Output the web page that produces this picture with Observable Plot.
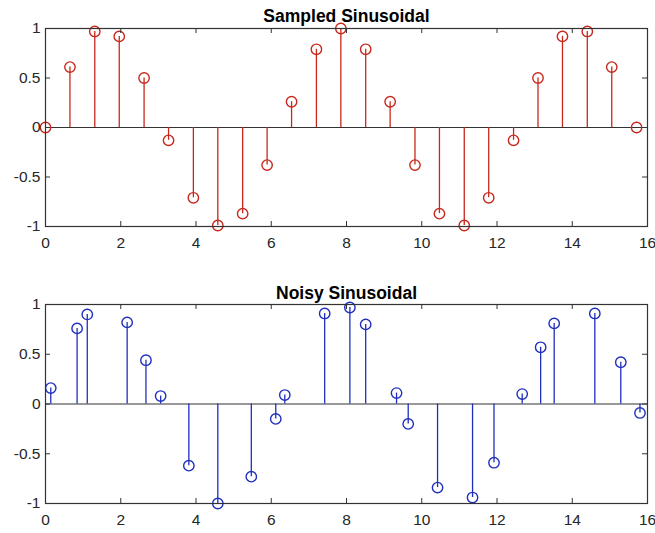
<!DOCTYPE html>
<html>
<head>
<meta charset="utf-8">
<script src="https://cdn.jsdelivr.net/npm/d3@7"></script>
<script src="https://cdn.jsdelivr.net/npm/@observablehq/plot@0.6"></script>
<style>
  body { margin: 0; background: #fff; }
  #chart { width: 655px; }
  #chart svg { display: block; }
</style>
</head>
<body>
<div id="chart"></div>
<script>
// Top: sampled sinusoid
const sampledX = [0, 0.65, 1.31, 1.96, 2.62, 3.27, 3.93, 4.58, 5.24, 5.89, 6.54, 7.20, 7.85, 8.51, 9.16, 9.82, 10.47, 11.13, 11.78, 12.44, 13.09, 13.74, 14.40, 15.05, 15.71];
const sampledY = [0, 0.61, 0.97, 0.92, 0.50, -0.13, -0.71, -0.99, -0.87, -0.38, 0.26, 0.79, 1.00, 0.79, 0.26, -0.38, -0.87, -0.99, -0.71, -0.13, 0.50, 0.92, 0.97, 0.61, 0];

// Bottom: noisy sinusoid
const noisyX = [0.14, 0.84, 1.11, 2.17, 2.67, 3.06, 3.81, 4.58, 5.47, 6.12, 6.36, 7.42, 8.09, 8.51, 9.33, 9.64, 10.42, 11.35, 11.92, 12.67, 13.16, 13.52, 14.60, 15.29, 15.80];
const noisyY = [0.16, 0.76, 0.90, 0.82, 0.44, 0.08, -0.62, -1.00, -0.73, -0.15, 0.09, 0.91, 0.97, 0.80, 0.11, -0.20, -0.84, -0.94, -0.59, 0.10, 0.57, 0.81, 0.91, 0.42, -0.09];

const xTicks = [0, 2, 4, 6, 8, 10, 12, 14, 16];
const yTicks = [-1, -0.5, 0, 0.5, 1];
const titles = ["Sampled Sinusoidal", "Noisy Sinusoidal"];

const axisColor = "#262626";
const fontFamily = "'Liberation Sans', Arial, Helvetica, sans-serif";

function stemPlot({xs, ys, color, title, height, marginTop, marginBottom, titleDy}) {
  const data = xs.map((x, i) => ({x, y: ys[i]}));
  const marginLeft = 45, marginRight = 8, width = 655;
  const fh = height - marginTop - marginBottom;
  const fw = width - marginLeft - marginRight;
  const tick = 5;
  return Plot.plot({
    width, height, marginTop, marginBottom, marginLeft, marginRight,
    style: {fontFamily, fontSize: "15px", color: axisColor, background: "#fff"},
    x: {domain: [0, 16]},
    y: {domain: [-1, 1]},
    marks: [
      Plot.ruleY([0], {stroke: "#333", strokeWidth: 1.2}),
      Plot.ruleX(data, {x: "x", y1: 0, y2: "y", stroke: color, strokeWidth: 1.3}),
      Plot.dot(data, {x: "x", y: "y", r: 5.2, stroke: color, strokeWidth: 1.4, fill: "none"}),
      Plot.frame({stroke: "#333", strokeWidth: 1.2}),
      Plot.tickX(xTicks, {x: d => d, insetTop: fh - tick, stroke: "#333"}),
      Plot.tickX(xTicks, {x: d => d, insetBottom: fh - tick, stroke: "#333"}),
      Plot.tickY(yTicks, {y: d => d, insetRight: fw - tick, stroke: "#333"}),
      Plot.tickY(yTicks, {y: d => d, insetLeft: fw - tick, stroke: "#333"}),
      Plot.axisX({ticks: xTicks, tickSize: 0, tickPadding: 10, fontSize: 15.5, fill: axisColor, label: null, tickFormat: d => String(d)}),
      Plot.axisY({ticks: yTicks, tickSize: 0, tickPadding: 5, fontSize: 15.5, fill: axisColor, label: null, tickFormat: d => String(d)}),
      Plot.text([title], {text: d => d, frameAnchor: "top", lineAnchor: "bottom", dy: titleDy, fontWeight: "bold", fontSize: 17.5, fill: "#000"})
    ]
  });
}

const chart = document.getElementById("chart");
chart.append(stemPlot({xs: sampledX, ys: sampledY, color: "#c8281c", title: titles[0], height: 268, marginTop: 28, marginBottom: 42, titleDy: -7}));
chart.append(stemPlot({xs: noisyX, ys: noisyY, color: "#1f2fbd", title: titles[1], height: 265, marginTop: 36, marginBottom: 30, titleDy: -6}));
</script>
</body>
</html>
